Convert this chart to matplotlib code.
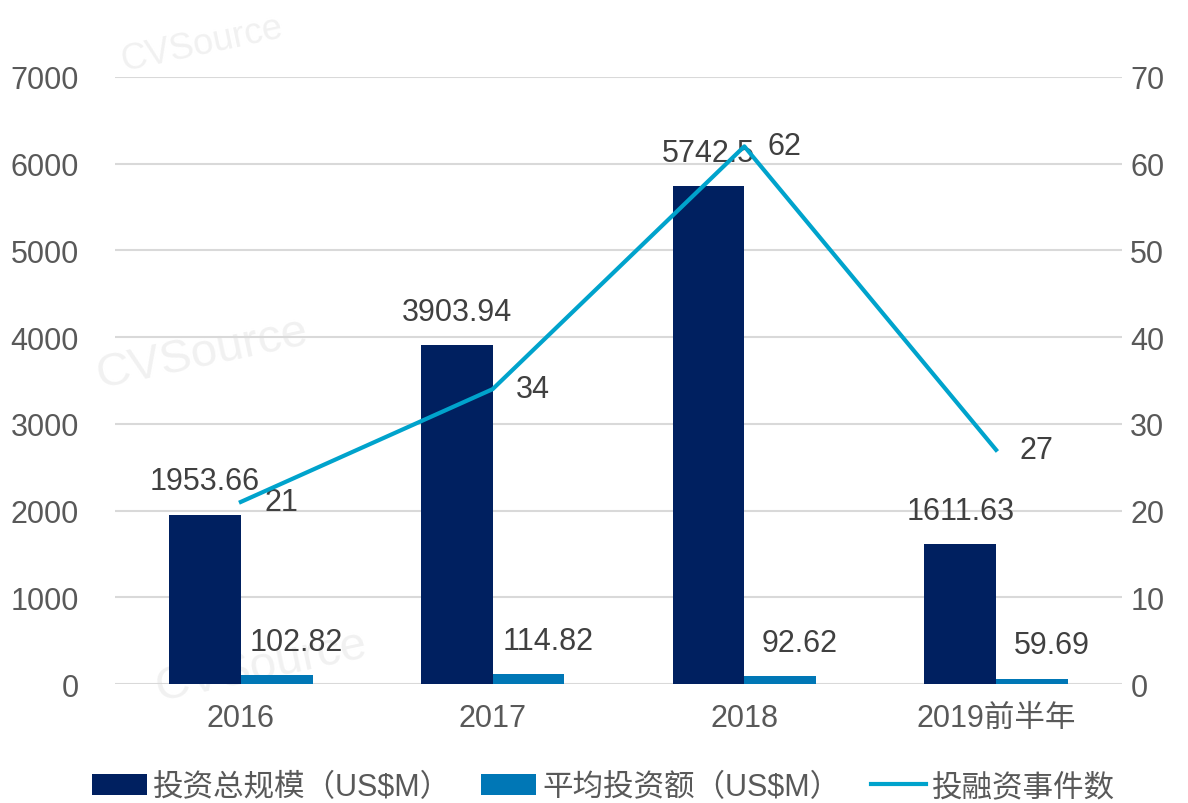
import numpy as np
import matplotlib
matplotlib.use("Agg")
import matplotlib.pyplot as plt

plt.rcParams["font.family"] = ["Liberation Sans", "Noto Sans CJK SC", "DejaVu Sans"]
plt.rcParams["font.size"] = 22

years = ["2016", "2017", "2018", "2019前半年"]
total_inv = [1953.66, 3903.94, 5742.5, 1611.63]      # 投资总规模 (US$M)
avg_inv = [102.82, 114.82, 92.62, 59.69]             # 平均投资额 (US$M)
deal_count = [21, 34, 62, 27]                        # 投融资事件数

C_NAVY = "#002060"; C_BLUE = "#0077B6"; C_LINE = "#00A3CC"
C_TXT = "#595959"; C_LBL = "#404040"; C_GRID = "#D9D9D9"

fig = plt.figure(figsize=(11.88, 8.04), dpi=100)
ax = fig.add_axes([0.0968, 0.148, 0.8476, 0.755])

# very faint watermarks, kept inside the canvas
for (wx, wy, fs) in [(0.17, 0.945, 26), (0.17, 0.56, 34), (0.22, 0.17, 34)]:
    fig.text(wx, wy, "CVSource", fontsize=fs, color="#F1F1F1", rotation=12,
             ha="center", va="center", zorder=-1)

x = np.arange(len(years))
w = 0.285
ax.bar(x - w / 2, total_inv, width=w, color=C_NAVY, zorder=3, label="投资总规模（US$M）")
ax.bar(x + w / 2, avg_inv, width=w, color=C_BLUE, zorder=3, label="平均投资额（US$M）")

for xi, v in zip(x, total_inv):
    ax.annotate(f"{v:g}", (xi - w / 2, v), xytext=(0, 24), textcoords="offset points",
                ha="center", va="center", color=C_LBL, fontsize=22)
for xi, v in zip(x, avg_inv):
    ax.annotate(f"{v:g}", (xi + w / 2, v), xytext=(14, 24), textcoords="offset points",
                ha="center", va="center", color=C_LBL, fontsize=22)

ax.set_ylim(0, 7000)
ax.set_yticks(range(0, 7001, 1000))
ax.set_xlim(-0.5, 3.5)
ax.set_xticks(x)
ax.set_xticklabels(years)
ax.grid(axis="y", color=C_GRID, lw=1.5, zorder=0)
ax.set_axisbelow(True)
ax.patch.set_alpha(0)
for s in ax.spines.values():
    s.set_visible(False)
ax.tick_params(length=0, colors=C_TXT, labelsize=22)
ax.tick_params(axis="x", pad=14)
ax.tick_params(axis="y", pad=26)

ax2 = ax.twinx()
ax2.plot(x, deal_count, color=C_LINE, lw=3, zorder=5, label="投融资事件数")
for xi, v in zip(x, deal_count):
    ax2.annotate(f"{v}", (xi, v), xytext=(29, 0), textcoords="offset points",
                 ha="center", va="center", color=C_LBL, fontsize=22)
ax2.set_ylim(0, 70)
ax2.set_yticks(range(0, 71, 10))
for s in ax2.spines.values():
    s.set_visible(False)
ax2.tick_params(length=0, colors=C_TXT, labelsize=22, pad=6)

h1, l1 = ax.get_legend_handles_labels()
h2, l2 = ax2.get_legend_handles_labels()
fig.legend(h1 + h2, l1 + l2, loc="center", bbox_to_anchor=(0.508, 0.02), ncol=3,
           frameon=False, fontsize=22, handlelength=1.8, handletextpad=0.2,
           columnspacing=1.0, labelcolor=C_TXT)

fig.savefig("out.png", dpi=100)
